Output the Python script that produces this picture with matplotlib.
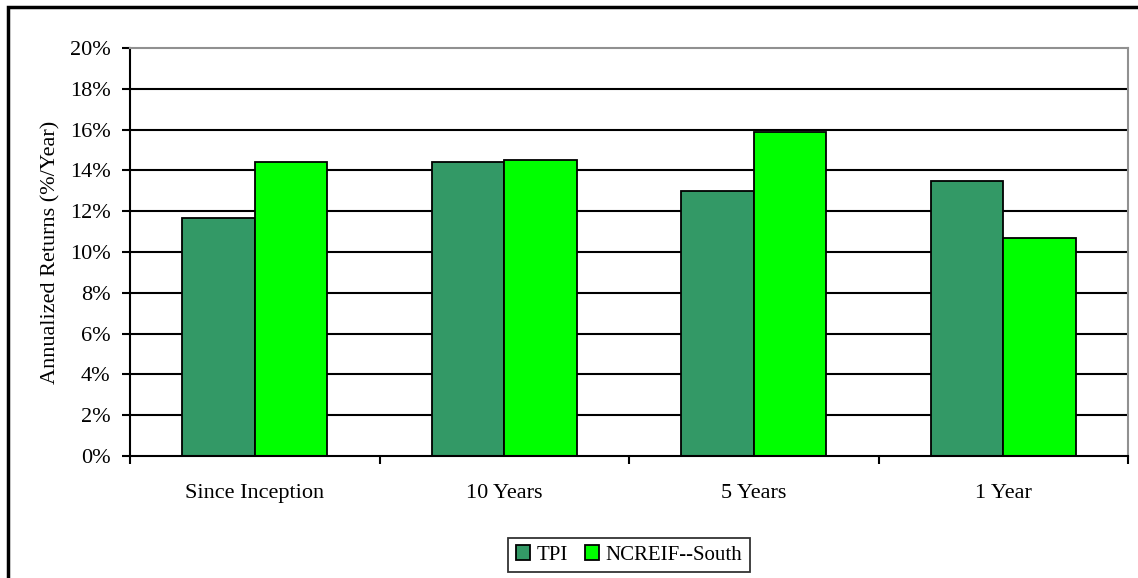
import numpy as np
import matplotlib.pyplot as plt
from matplotlib.patches import Rectangle

categories = ['Since Inception', '10 Years', '5 Years', '1 Year']
tpi = [11.67, 14.43, 12.97, 13.46]
ncreif_south = [14.43, 14.53, 15.90, 10.71]
series_names = ['TPI', 'NCREIF--South']
y_ticks = [0, 2, 4, 6, 8, 10, 12, 14, 16, 18, 20]

plt.rcParams['font.family'] = ['Liberation Serif', 'DejaVu Serif']

fig = plt.figure(figsize=(11.38, 5.78), dpi=100)
ax = fig.add_axes([130 / 1138, 1 - 456 / 578, 998 / 1138, 408 / 578])

# figure frame, only the top and left edges show in the reference
fig.patches.append(Rectangle((8 / 1138, -0.1), 1.2, 1.1 - 7 / 578,
                             transform=fig.transFigure, fill=False,
                             edgecolor='black', linewidth=2.5))

x = np.arange(len(categories)) + 0.5
w = 0.29
ax.bar(x - w / 2, tpi, w, color='#339966', edgecolor='black', linewidth=1.3,
       label=series_names[0], zorder=3)
ax.bar(x + w / 2, ncreif_south, w, color='#00FF00', edgecolor='black', linewidth=1.3,
       label=series_names[1], zorder=3)

ax.set_xlim(0, len(categories))
ax.set_ylim(0, 20)
ax.set_yticks(y_ticks)
ax.set_yticklabels(['{0}%'.format(t) for t in y_ticks], fontsize=16)
ax.set_xticks(np.arange(len(categories) + 1))
ax.set_xticklabels([])
ax.set_xticks(x, minor=True)
ax.set_xticklabels(categories, minor=True, fontsize=16)
ax.tick_params(axis='x', which='minor', length=0, pad=20)
ax.tick_params(axis='x', which='major', length=6, width=1.5, direction='out')
ax.tick_params(axis='y', length=6, width=1.5, direction='out', pad=8)

for t in y_ticks[1:-1]:
    ax.axhline(t, color='black', linewidth=1.5, zorder=1)

for side in ['top', 'right']:
    ax.spines[side].set_color('#909090')
    ax.spines[side].set_linewidth(1.5)
for side in ['left', 'bottom']:
    ax.spines[side].set_linewidth(1.5)
ax.spines['bottom'].set_zorder(4)

ax.set_ylabel('Annualized Returns (%/Year)', fontsize=16, labelpad=7)

leg = ax.legend(loc='lower center', bbox_to_anchor=(0.5, -0.31), ncol=2,
                fontsize=15, frameon=True, fancybox=False, edgecolor='black',
                handlelength=0.7, handleheight=0.7, handletextpad=0.3,
                columnspacing=0.8, borderpad=0.35)
leg.get_frame().set_linewidth(1.3)

plt.savefig('out.png', dpi=100)
plt.close()
